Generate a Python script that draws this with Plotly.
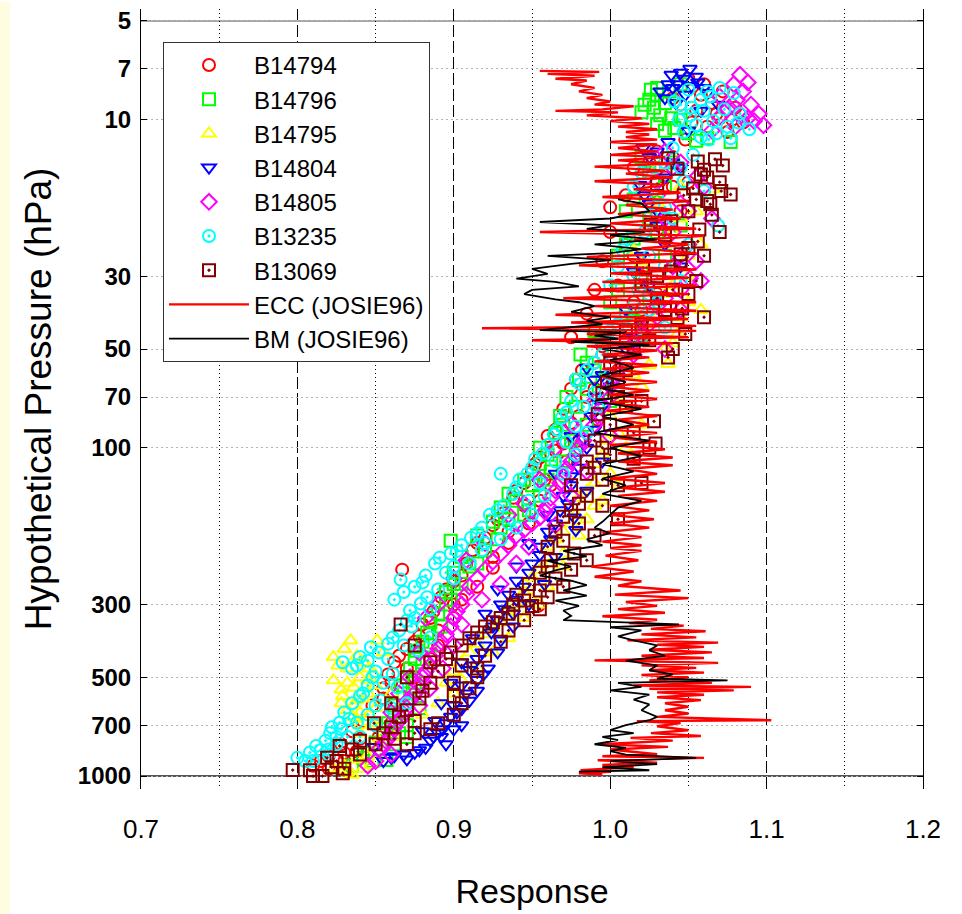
import math
import plotly.graph_objects as go

# ---------------- data (response, pressure hPa) ----------------
b14794 = [(1.05,7.5),(1.06,7.8),(1.072,8.2),(1.065,8.9),(1.08,9.2),(1.07,9.9),(1.062,10.5),(1.075,10.9),
          (1.055,9.4),(1.085,10.2),(1.048,11.5),(1.04,8.6),
          (1.058,8.4),(1.068,9.6),(1.078,10.0),(1.052,10.2),(1.045,9.0),
          (1.03,12.5),(1.015,14),(1.04,16),(1.0,18.5),(1.025,21),(1.01,24),(0.995,27),(1.02,30),(0.99,33),
          (1.015,36),(0.985,39),(1.005,42),(0.975,46),(0.995,49),
          (1.025,13.5),(1.035,15),(1.01,17),(1.03,19.5),(1.0,22),(1.015,26),(1.005,32),(1.02,38),(0.99,44),
          (1.04,13),(1.05,15.5),(1.045,19),(1.035,23),(1.04,28),(1.03,34),(1.02,40),(1.01,47),
          (0.99,55),(0.978,62),(0.985,70),(0.97,76),(0.975,84),(0.96,92),(0.965,102),(0.952,112),(0.958,125),
          (0.94,135),(0.945,150),(0.928,165),(0.935,180),(0.915,195),(0.925,215),(0.867,235),
          (0.995,52),(0.982,58),(0.975,66),(0.98,80),(0.965,88),(0.97,97),(0.955,107),(0.95,118),(0.945,128),
          (0.938,142),(0.932,158),(0.925,172),(0.92,188),(0.912,205),(0.908,225),
          (1.005,58),(0.99,66),(0.992,82),(0.98,95),(0.972,110),(0.962,130),(0.955,145),(0.948,170),(0.935,195),
          (0.905,245),(0.895,270),(0.9,300),(0.954,303),(0.885,330),(0.89,360),(0.875,390),(0.865,430),
          (0.87,470),(0.86,520),(0.855,580),(0.865,640),(0.85,700),(0.84,770),(0.83,850),(0.815,900),(0.81,930),
          (0.9,255),(0.892,285),(0.887,315),(0.88,345),(0.878,375),(0.87,410),(0.862,450),(0.858,490),
          (0.855,540),(0.848,610),(0.842,680),(0.835,730),(0.828,800),(0.82,870),
          (0.925,232),(0.915,265),(0.905,290),(0.9,330),(0.89,400),(0.885,440),(0.875,500),(0.862,600),
          (0.86,690),(0.852,760),(0.838,840),(0.83,900),(0.82,950)]

b14796 = [(1.026,8.1),(1.028,9.2),(1.032,9.7),(1.041,10.6),(1.077,11.7),(1.062,11.4),(1.039,9.9),(1.045,7.8),
          (1.03,8.4),(1.025,8.7),(1.035,8.9),(1.02,9.5),(1.05,11.0),(1.03,10.3),
          (1.03,8.0),(1.038,8.2),(1.022,9.0),(1.045,10.0),(1.035,10.8),(1.055,11.6),
          (1.02,13),(1.035,16),(1.01,19),(1.03,22),(1.005,26),(1.02,31),(1.0,36),(1.015,41),(0.995,46),(0.981,51.9),
          (1.025,14.5),(1.015,17.5),(1.025,20),(1.01,24),(1.02,28),(1.005,33),(1.01,39),(0.99,44),
          (1.04,13.5),(1.03,16.5),(1.045,21),(1.015,23),(1.035,26),(1.025,35),(1.02,45),
          (0.99,58),(0.985,66),(0.978,75),(0.97,85),(0.975,95),(0.96,105),(0.962,118),(0.95,130),(0.94,145),
          (0.945,160),(0.93,175),(0.898,192),(0.92,205),(0.91,230),
          (0.985,55),(0.98,62),(0.972,70),(0.968,80),(0.965,90),(0.955,100),(0.955,112),(0.945,125),(0.935,138),
          (0.93,152),(0.925,168),(0.915,185),(0.905,215),(0.9,240),
          (0.995,62),(1.0,72),(0.985,85),(0.978,100),(0.97,110),(0.96,125),(0.955,140),(0.948,155),(0.935,165),
          (0.928,190),(0.915,225),
          (0.9,260),(0.895,300),(0.885,340),(0.88,390),(0.875,440),(0.87,500),(0.868,560),(0.86,610),
          (0.865,660),(0.855,720),(0.87,760),(0.857,894),(0.845,850),(0.835,930),
          (0.895,275),(0.89,320),(0.883,365),(0.876,415),(0.872,470),(0.866,530),(0.872,580),(0.862,640),
          (0.858,690),(0.865,740),(0.85,790),(0.853,830),(0.842,880),
          (0.905,260),(0.898,290),(0.892,350),(0.885,400),(0.88,450),(0.875,520),(0.878,620),(0.87,700),
          (0.862,800),(0.848,900)]

b14795 = [(1.058,24),(1.066,16.3),(1.058,38),(1.043,45),(1.04,48),(1.037,55.5),(1.05,30),(1.045,20),
          (1.03,14),(1.02,27),(1.035,34),(1.025,42),
          (1.03,18),(1.04,22),(1.015,25),(1.05,36),(1.03,40),(1.035,50),
          (1.045,16),(1.055,19),(1.05,26),(1.04,32),(1.045,40),(1.025,56),
          (1.02,65),(1.01,75),(1.005,90),(0.995,105),(1.0,120),(0.985,135),(0.99,150),(0.975,170),(0.965,190),
          (0.97,210),(0.955,235),(0.945,260),(0.95,290),(0.935,310),(0.93,340),(0.92,370),(0.91,420),(0.9,480),
          (1.015,60),(1.005,70),(1.0,80),(0.998,95),(0.99,112),(0.99,128),(0.98,142),(0.978,160),(0.97,180),
          (0.96,200),(0.962,225),(0.95,248),(0.945,275),(0.94,300),(0.935,325),(0.925,355),(0.915,395),
          (0.905,450),(0.895,520),
          (1.02,85),(1.01,100),(1.005,130),(0.995,145),(0.985,165),(0.98,185),(0.97,230),(0.96,265),(0.955,300),
          (0.945,330),(0.935,380),(0.925,420),(0.915,470),(0.905,510),(0.9,560),(0.89,600),(0.88,650),
          (0.834,386),(0.851,386),(0.823,434),(0.823,511),(0.836,537),(0.845,511),(0.829,570),(0.838,587),
          (0.849,488),(0.84,640),(0.832,470),(0.842,450),(0.855,420),(0.828,600),(0.845,560),(0.835,660),
          (0.85,620),(0.86,560),(0.84,700),(0.847,925),(0.827,960),(0.823,950),(0.835,990),(0.845,870),
          (0.85,800),(0.862,760),
          (0.83,410),(0.838,430),(0.826,460),(0.846,470),(0.84,500),(0.832,520),(0.85,530),(0.828,545),
          (0.842,580),(0.836,610),(0.832,630),(0.846,650),(0.838,670),(0.848,690),(0.84,740),(0.852,780),
          (0.838,890),(0.83,930),(0.842,950),(0.832,975)]

b14804 = [(1.051,7.0),(1.045,7.2),(1.039,7.3),(1.037,7.8),(1.032,8.2),(1.056,7.7),(1.043,7.8),(1.069,9.0),
          (1.048,8.4),(1.06,8.0),(1.035,8.6),(1.055,7.4),
          (1.047,7.5),(1.052,7.9),(1.04,8.0),(1.062,8.3),(1.058,9.4),(1.042,8.9),
          (1.021,12.2),(1.037,11.7),(1.019,15.8),(1.03,12.5),(1.045,14),(1.025,18),(1.035,24),(1.015,29),
          (1.03,35),(1.02,42),
          (1.025,13),(1.035,15),(1.022,17),(1.03,21),(1.02,26),(1.025,32),(1.01,38),(1.015,46),
          (1.05,10.8),(1.04,13.5),(1.03,19),(1.045,28),
          (1.01,50),(0.985,57),(1.0,65),(0.995,75),(0.99,88),(0.985,100),(0.98,115),(0.975,130),(0.973,148),
          (0.968,155),(0.977,163),(0.96,180),(0.955,200),(0.95,225),
          (1.0,53),(0.995,60),(0.99,70),(0.988,80),(0.983,94),(0.978,108),(0.975,122),(0.97,140),(0.965,170),
          (0.962,190),(0.955,212),(0.948,240),
          (0.99,62),(0.975,92),(0.995,110),(0.965,120),(0.985,135),(0.96,160),(0.978,178),(0.948,195),
          (0.965,215),(0.94,230),(0.958,260),(0.928,270),(0.948,300),(0.92,320),(0.938,350),(0.912,380),
          (0.928,420),(0.905,450),(0.922,470),(0.898,520),(0.915,550),(0.892,600),(0.905,625),(0.888,680),
          (0.9,720),(0.88,730),(0.892,760),
          (0.94,254),(0.935,280),(0.93,300),(0.938,320),(0.925,350),(0.93,386),(0.918,420),(0.912,460),
          (0.919,490),(0.905,530),(0.91,590),(0.902,640),(0.895,690),(0.905,700),(0.89,740),(0.885,780),
          (0.895,800),(0.875,850),(0.87,890),(0.862,870),(0.849,815),(0.855,900),
          (0.945,265),(0.94,290),(0.932,310),(0.928,335),(0.924,365),(0.92,400),(0.915,440),(0.91,475),
          (0.915,510),(0.908,560),(0.9,610),(0.898,660),(0.893,720),(0.887,760),(0.882,820),(0.878,835),
          (0.868,860),(0.86,880)]

b14805 = [(1.083,7.3),(1.088,7.7),(1.079,7.8),(1.081,8.7),(1.09,9.0),(1.084,9.7),(1.088,9.9),(1.098,10.4),
          (1.092,10.1),(1.075,9.3),(1.07,8.5),(1.065,10.8),
          (1.085,8.2),(1.078,9.0),(1.095,9.6),(1.08,10.5),(1.07,9.8),
          (1.035,12.5),(1.045,13.5),(1.055,15),(1.03,17),(1.05,19),(1.04,22),(1.045,26),(1.058,31),
          (1.051,30.5),(1.035,35),(1.03,40),(1.02,45),
          (1.04,14),(1.03,15.5),(1.045,18),(1.035,20),(1.05,24),(1.04,28),(1.045,33),(1.03,37),(1.025,42),
          (1.015,48),(1.06,16),(1.065,20),(1.055,27),(1.045,38),(1.035,50),
          (1.015,52),(1.005,60),(1.0,70),(0.992,80),(0.985,90),(0.98,100),(0.975,110),(0.97,122),(0.965,135),
          (0.96,150),(0.955,163),(0.94,185),(0.93,210),(0.92,235),
          (1.01,55),(1.0,65),(0.995,75),(0.99,85),(0.983,95),(0.978,105),(0.972,116),(0.968,128),(0.962,142),
          (0.958,156),(0.95,170),(0.945,178),(0.935,198),(0.925,222),(0.915,250),
          (0.99,72),(0.975,85),(1.0,92),(0.965,100),(0.985,118),(0.955,125),(0.975,140),(0.945,148),
          (0.965,172),(0.935,160),(0.948,200),(0.92,195),(0.94,225),(0.908,220),(0.93,260),(0.9,250),
          (0.918,290),(0.89,300),(0.905,345),(0.882,330),(0.9,400),(0.878,420),(0.893,470),(0.872,500),
          (0.885,540),(0.865,560),(0.878,610),(0.86,640),
          (0.91,265),(0.905,300),(0.9,330),(0.895,370),(0.89,410),(0.885,460),(0.88,500),(0.875,560),
          (0.87,620),(0.865,680),(0.86,740),(0.855,800),(0.86,860),(0.845,930),
          (0.908,280),(0.902,315),(0.898,350),(0.892,390),(0.888,430),(0.882,480),(0.878,530),(0.872,590),
          (0.868,650),(0.862,710),(0.858,770),(0.852,830),(0.85,900)]

b13235 = [(1.05,8.1),(1.058,8.7),(1.064,8.5),(1.079,8.3),(1.089,10.7),(1.077,11.4),(1.058,11.3),(1.047,10.9),
          (1.041,8.8),(1.051,9.7),(1.066,10.1),(1.073,9.3),(1.045,9.0),(1.06,9.4),(1.07,8.0),(1.083,9.6),
          (1.055,10.4),(1.068,11.0),
          (1.062,8.2),(1.075,10.5),(1.052,9.2),(1.082,10.2),(1.063,11.5),(1.044,10.0),
          (1.053,12.8),(1.047,15.4),(1.069,21.0),(1.026,19.5),(1.035,13.5),(1.02,14.5),(1.03,17.0),(1.012,23.0),
          (1.025,26.0),(1.005,28.0),(1.018,33.0),(1.03,36.0),(1.01,40.0),(1.0,44.0),(1.02,47.0),
          (1.04,12.2),(1.028,14),(1.015,16),(1.035,18.5),(1.022,22),(1.008,25),(1.015,30),(1.0,32),(1.025,38),
          (1.005,42),(0.995,48),
          (1.045,14),(1.06,16.5),(1.04,20),(1.05,24),(1.035,28),(1.045,31),(1.025,34),(1.035,43),(1.015,37),
          (0.995,52),(0.985,58),(0.981,64),(0.99,68),(0.975,72),(0.969,81),(0.978,86),(0.964,91),(0.972,96),
          (0.957,104),(0.965,110),(0.947,120),(0.93,120),(0.955,128),(0.938,138),(0.948,145),(0.923,160),
          (0.935,170),(0.911,188),(0.92,195),(0.902,206),(0.891,216),
          (0.99,55),(0.978,62),(0.983,75),(0.972,78),(0.966,88),(0.96,98),(0.952,108),(0.95,115),(0.942,125),
          (0.94,132),(0.932,150),(0.928,155),(0.918,175),(0.915,182),(0.905,198),(0.898,210),(0.888,225),
          (0.9,230),(0.882,245),
          (1.0,60),(0.992,75),(0.985,90),(0.978,105),(0.97,120),(0.958,140),(0.95,160),(0.94,175),(0.93,190),
          (0.918,205),(0.91,225),(0.9,250),(0.89,270),
          (0.866,252),(0.88,257),(0.895,240),(0.872,313),(0.879,298),(0.883,285),(0.87,336),(0.885,378),
          (0.861,378),(0.877,414),(0.847,405),(0.84,434),(0.829,450),(0.835,470),(0.861,488),(0.864,537),
          (0.853,587),(0.86,620),(0.845,650),(0.838,688),(0.827,688),(0.821,740),(0.832,760),(0.815,834),
          (0.808,848),(0.80,880),(0.825,800),(0.85,700),(0.87,600),
          (0.875,265),(0.868,275),(0.862,290),(0.873,350),(0.865,360),(0.858,395),(0.852,420),(0.845,445),
          (0.838,460),(0.848,500),(0.855,520),(0.842,560),(0.835,600),(0.83,640),(0.822,710),(0.828,720),
          (0.818,780),(0.812,810),(0.82,860),(0.805,900),
          (0.885,310),(0.875,330),(0.868,400),(0.858,440),(0.85,480),(0.845,530),(0.84,570),(0.85,610),
          (0.833,670),(0.84,760),(0.825,760),(0.81,900),(0.82,830)]

b13069 = [(1.067,13.2),(1.072,13.8),(1.056,13.4),(1.058,14.7),(1.062,15.0),(1.053,16.2),(1.077,16.9),
          (1.071,16.5),(1.064,18.1),(1.062,17.7),(1.043,14.1),(1.037,13.1),(1.03,15.7),(1.047,17.0),
          (1.039,20.4),(1.057,21.6),(1.056,23.5),(1.05,24.6),(1.045,25.7),(1.026,20.9),(1.021,28.3),
          (1.039,29.0),(1.046,37.6),(1.043,40.2),(1.02,32),(1.03,35),(1.01,44),(1.025,47),
          (1.06,14.2),(1.07,15.5),(1.055,17.5),(1.05,19),(1.035,22.5),(1.045,27),(1.03,30),(1.04,33),
          (1.035,38),(1.02,42),(1.015,50),
          (1.065,19.5),(1.07,22),(1.06,26),(1.055,31),(1.05,34),(1.06,40),(1.048,45),(1.04,50),
          (1.037,53),(1.028,83),(1.029,97),(0.992,79),(0.998,63),(1.01,58),(1.005,70),(1.015,90),(1.0,105),
          (0.99,115),(0.995,125),(0.985,140),(0.975,155),(0.98,170),(0.97,192),(0.977,210),(0.96,230),
          (0.965,250),(0.955,272),(0.945,292),(0.95,303),(0.935,320),
          (1.0,55),(1.005,62),(0.995,68),(1.01,75),(1.0,85),(0.99,95),(0.995,100),(0.985,110),(0.985,120),
          (0.975,130),(0.98,148),(0.97,162),(0.965,180),(0.96,200),(0.962,220),(0.955,240),(0.948,260),
          (0.94,280),(0.938,300),(0.93,330),
          (1.02,72),(1.025,100),(1.015,108),(1.005,130),(1.02,128),(0.995,150),(1.005,165),(0.99,185),
          (0.985,220),(0.975,235),(0.97,265),(0.96,285),(0.955,310),(0.945,335),(0.935,360),(0.93,390),
          (0.92,430),(0.915,470),(0.91,540),(0.905,600),(0.9,650),(0.89,690),(0.885,720),(0.875,740),(0.87,800),
          (0.92,350),(0.925,340),(0.91,380),(0.898,420),(0.905,460),(0.915,500),(0.9,570),(0.866,345),
          (0.875,400),(0.885,450),(0.87,500),(0.88,550),(0.86,600),(0.865,660),(0.849,690),(0.855,740),
          (0.84,780),(0.827,810),(0.819,880),(0.829,980),(0.816,1000),(0.81,1000),(0.808,960),(0.797,959),
          (0.915,365),(0.905,400),(0.895,440),(0.89,480),(0.9,520),(0.885,520),(0.878,580),(0.87,630),
          (0.875,680),(0.86,710),(0.862,770),(0.85,800),(0.835,830),(0.84,860),(0.825,900),(0.822,940),
          (0.83,950)]

ecc_josie96 = [(0.955,7.10),(0.993,7.15),(0.96,7.25),(0.99,7.35),(0.965,7.5),(0.985,7.6),(0.975,7.8),(0.99,8.0),
    (0.98,8.2),(0.995,8.4),(0.985,8.6),(1.0,8.8),(0.99,9.0),(1.015,9.1),(0.995,9.3),(0.965,9.4),(1.005,9.5),
    (0.985,9.7),(1.02,9.9),(1.0,10.1),(1.025,10.3),(1.005,10.5),(1.03,10.7),(1.01,10.9),(1.025,11.1),
    (1.01,11.3),(1.03,11.5),(1.0,11.7),(1.03,11.9),(1.005,12.2),(1.03,12.5),(1.0,12.8),(1.035,13.0),
    (1.005,13.3),(1.04,13.6),(0.99,13.9),(1.035,14.3),(1.01,14.6),(1.04,15.0),(0.99,15.4),(1.035,15.8),
    (1.015,16.3),(1.045,16.7),(0.995,17.2),(1.05,17.7),(1.01,18.2),(1.04,18.8),(1.005,19.4),(1.045,20.0),
    (1.0,20.7),(1.055,21.5),(0.955,22.0),(1.06,22.6),(1.015,23.3),(1.05,24.0),(1.02,24.7),(1.055,25.5),
    (0.985,26.2),(1.04,27.0),(0.98,27.8),(1.055,28.6),(1.0,29.4),(1.05,30.3),(0.995,31.2),(1.055,32.0),
    (0.985,33.0),(1.05,34.0),(0.97,35.0),(1.055,36.0),(0.99,37.0),(1.055,38.2),(0.965,39.3),(1.05,40.5),
    (0.975,41.5),(1.055,42.5),(0.918,43.2),(1.055,44.0),(0.985,45.0),(1.05,46.0),(0.95,47.0),(1.04,48.0),
    (0.985,49.0),(1.03,50.5),(0.995,52),(1.025,53),(0.99,54.5),(1.03,56),(0.995,57.5),(1.025,59),(0.995,61),
    (1.03,63),(0.998,65),(1.025,67),(1.0,69),(1.03,71),(1.0,73),(1.025,75),(0.998,77),(1.03,80),(1.005,82),
    (1.025,85),(1.0,88),(1.03,90),(1.002,93),(1.03,96),(1.0,98),(1.035,101),(1.005,104),(1.04,107),
    (1.005,110),(1.04,113),(1.01,116),(1.03,120),(1.0,124),(1.035,128),(1.005,132),(1.035,136),(1.005,140),
    (1.03,145),(1.0,150),(1.025,155),(1.0,160),(1.028,165),(1.0,170),(1.025,175),(0.995,181),(1.02,187),
    (0.995,193),(1.02,198),(1.0,202),(1.02,206),(0.997,213),(1.018,220),(0.988,230),(1.015,238),(0.99,247),
    (1.02,255),(1.005,263),(1.045,272),(1.003,280),(1.05,287),(1.01,295),(1.03,303),(1.005,310),(1.035,318),
    (0.995,326),(1.03,334),(1.012,342),(1.047,348),(1.026,356),(1.061,362),(1.02,370),(1.055,378),
    (1.011,386),(1.069,392),(1.03,398),(1.06,404),(1.025,412),(1.065,420),(1.02,430),(1.06,437),(0.99,444),
    (1.069,452),(1.02,460),(1.055,468),(1.025,476),(1.06,484),(1.02,492),(1.05,500),(1.025,511),(1.065,520),
    (1.015,530),(1.09,535),(1.025,542),(1.079,548),(1.03,556),(1.06,565),(1.03,575),(1.058,587),(1.035,600),
    (1.05,615),(1.035,630),(1.05,645),(1.03,660),(1.103,676),(1.017,680),(1.045,690),(1.03,705),(1.05,725),
    (1.026,740),(1.058,755),(1.013,765),(1.04,780),(0.994,800),(1.037,815),(1.0,830),(1.03,858),(0.995,870),
    (1.06,880),(0.992,895),(1.03,910),(0.995,925),(1.015,940),(0.981,959),(1.0,970),(0.98,980),(0.995,990)]

bm_josie96 = [(1.005,17.5),(1.02,18.0),(1.025,19.0),(1.0,20.0),(0.955,20.5),(1.0,21.0),(0.985,21.5),(1.022,22.0),
    (1.0,22.5),(1.03,23.2),(0.99,24.0),(1.02,24.8),(1.0,25.5),(0.96,26.0),(1.0,26.8),(0.975,27.5),(0.95,28.5),
    (0.96,29.5),(0.94,30.5),(0.965,31.2),(0.98,32.2),(0.95,33.0),(0.945,34.0),(0.965,35.3),(0.98,36.0),
    (0.99,37.0),(0.975,38.5),(1.0,40.0),(0.985,41.0),(0.995,42.0),(0.955,43.8),(1.01,44.5),(0.99,45.5),
    (1.005,46.5),(0.975,47.5),(1.025,48.5),(0.995,50),(1.02,52),(1.0,54),(1.015,57),(0.995,60),(1.01,63),
    (0.995,66),(1.015,69),(0.99,72),(1.02,76),(0.995,80),(1.015,85),(0.99,90),(1.025,95),(1.0,100),
    (1.02,106),(0.995,112),(1.015,118),(0.995,124),(1.01,130),(0.995,138),(1.02,145),(1.005,152),(1.0,160),
    (0.995,168),(0.99,175),(1.0,182),(0.985,190),(0.995,198),(0.97,206),(0.985,214),(0.96,221),(0.975,230),
    (0.965,236),(0.955,245),(0.975,254),(0.985,262),(0.97,272),(0.985,282),(0.965,292),(0.98,303),
    (0.97,313),(0.975,325),(0.97,335),(1.044,345),(1.0,352),(1.02,360),(1.005,375),(1.015,386),(1.03,400),
    (1.025,414),(1.035,430),(1.01,445),(1.03,460),(1.025,476),(1.04,490),(1.03,505),(1.075,511),(1.005,520),
    (1.02,535),(1.0,548),(1.025,565),(1.015,585),(1.025,605),(1.02,630),(1.03,660),(1.025,676),(1.01,700),
    (1.0,725),(1.015,740),(0.995,760),(1.005,777),(0.99,800),(1.01,820),(1.0,840),(1.01,860),(1.055,880),
    (1.0,900),(1.03,920),(0.995,940),(1.025,960),(0.98,970)]

series_names = ["B14794", "B14796", "B14795", "B14804", "B14805", "B13235", "B13069"]
series_data = [b14794, b14796, b14795, b14804, b14805, b13235, b13069]
series_colors = ["#FF0000", "#00FF00", "#FFFF00", "#0000FF", "#FF00FF", "#00FFFF", "#800000"]
series_symbols = ["circle-open", "square-open", "triangle-up-open", "triangle-down-open",
                  "diamond-open", "circle-open-dot", "square-open-dot"]

y_tickvals = [5, 7, 10, 30, 50, 70, 100, 300, 500, 700, 1000]
FONT = "Liberation Sans, Arial, sans-serif"

fig = go.Figure()
for name, pts, col, sym in zip(series_names, series_data, series_colors, series_symbols):
    fig.add_trace(go.Scatter(
        x=[a for a, b in pts], y=[b for a, b in pts], mode="markers", name=name,
        marker=dict(symbol=sym, size=12, color=col, line=dict(color=col, width=2))))

fig.add_trace(go.Scatter(x=[a for a, b in ecc_josie96], y=[b for a, b in ecc_josie96], mode="lines",
                         name="ECC (JOSIE96)", line=dict(color="#FF0000", width=2.4)))
fig.add_trace(go.Scatter(x=[a for a, b in bm_josie96], y=[b for a, b in bm_josie96], mode="lines",
                         name="BM (JOSIE96)", line=dict(color="#000000", width=1.8)))

L, R, T, B = 141, 39, 7, 125
W, H = 962, 914
pw, ph = W - L - R, H - T - B

fig.update_layout(
    width=W, height=H,
    margin=dict(l=L, r=R, t=T, b=B, pad=0),
    paper_bgcolor="white", plot_bgcolor="white",
    font=dict(family=FONT, color="black"),
    showlegend=True,
    legend=dict(x=(163 - L) / pw, y=1 - (40 - T) / ph, xanchor="left", yanchor="top",
                bgcolor="white", bordercolor="#333333", borderwidth=1,
                font=dict(family=FONT, size=24, color="black"), itemwidth=80,
                itemsizing="trace", tracegroupgap=0),
    xaxis=dict(range=[0.7, 1.2], dtick=0.1, tick0=0.7, tickformat=".1f",
               showgrid=True, gridcolor="black", gridwidth=1, griddash="12px,4px",
               minor=dict(dtick=0.1, tick0=0.75, showgrid=True, gridcolor="black",
                          gridwidth=1, griddash="1px,3px"),
               zeroline=False, showline=False, ticks="",
               tickfont=dict(family=FONT, size=26, color="black"), ticklabelstandoff=22,
               title=dict(text="Response", font=dict(family=FONT, size=34, color="black"), standoff=36)),
    yaxis=dict(type="log", range=[math.log10(1095), math.log10(4.6)],
               tickvals=y_tickvals, ticktext=[str(v) for v in y_tickvals],
               showgrid=True, gridcolor="#b4b4b4", gridwidth=1, griddash="2px,3px",
               zeroline=False, showline=True, linecolor="black", linewidth=1, mirror="ticks",
               ticks="inside", ticklen=6, tickcolor="black",
               tickfont=dict(family=FONT, size=24, color="black", weight="bold"), ticklabelstandoff=4,
               title=dict(text="Hypothetical Pressure (hPa)", font=dict(family=FONT, size=37, color="black"),
                          standoff=14)),
    shapes=[
        dict(type="rect", xref="paper", yref="paper", x0=-L / pw, x1=-(L - 10) / pw,
             y0=-B / ph, y1=1 + T / ph, fillcolor="#FFFDE0", line=dict(width=0), layer="below"),
        dict(type="line", xref="paper", yref="y", x0=0, x1=1, y0=5, y1=5,
             line=dict(color="#888888", width=1.5), layer="below"),
        dict(type="line", xref="paper", yref="y", x0=0, x1=1, y0=1000, y1=1000,
             line=dict(color="#555555", width=2), layer="below"),
    ],
)

fig.write_html("out.html")
